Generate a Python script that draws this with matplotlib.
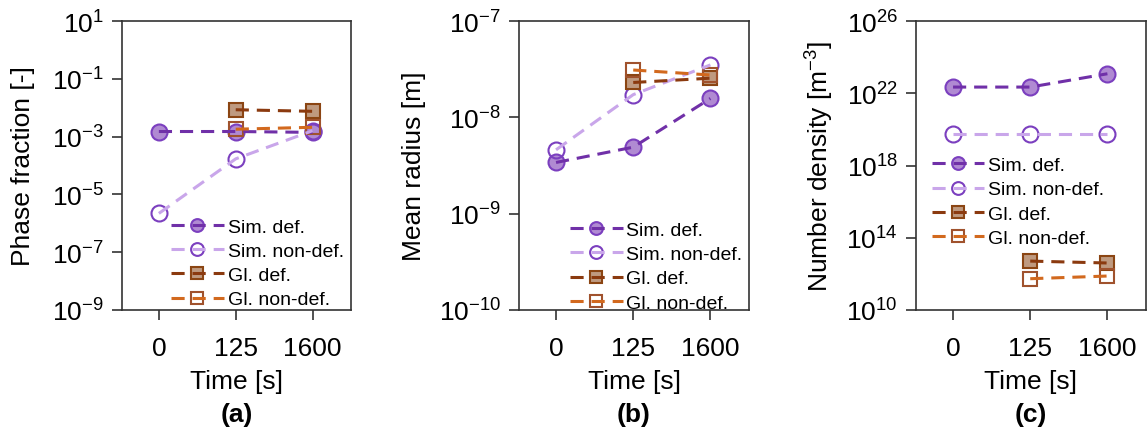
import math
import matplotlib
matplotlib.use("Agg")
import matplotlib.pyplot as plt
from matplotlib.ticker import FixedLocator, FuncFormatter, NullLocator

plt.rcParams['font.family'] = ['Liberation Sans', 'DejaVu Sans']
plt.rcParams['mathtext.fontset'] = 'custom'
plt.rcParams['mathtext.rm'] = 'Liberation Sans'
plt.rcParams['mathtext.it'] = 'Liberation Sans:italic'
plt.rcParams['mathtext.bf'] = 'Liberation Sans:bold'
plt.rcParams['mathtext.default'] = 'regular'

# ---- data ----
time_labels = ["0", "125", "1600"]
x_sim = [0, 1, 2]
x_gl = [1, 2]

# (a) phase fraction [-]
pf_sim_def = [1.5e-3, 1.5e-3, 1.4e-3]
pf_sim_nondef = [2.2e-6, 1.7e-4, 1.6e-3]
pf_gl_def = [8.5e-3, 7.5e-3]
pf_gl_nondef = [1.8e-3, 2.1e-3]

# (b) mean radius [m]
mr_sim_def = [3.4e-9, 4.9e-9, 1.57e-8]
mr_sim_nondef = [4.6e-9, 1.72e-8, 3.5e-8]
mr_gl_def = [2.3e-8, 2.55e-8]
mr_gl_nondef = [3.1e-8, 2.75e-8]

# (c) number density [m^-3]
nd_sim_def = [2.2e22, 2.2e22, 1.2e23]
nd_sim_nondef = [5.6e19, 5.6e19, 5.6e19]
nd_gl_def = [5.1e12, 4.0e12]
nd_gl_nondef = [5.4e11, 7.6e11]

labels = ["Sim. def.", "Sim. non-def.", "Gl. def.", "Gl. non-def."]

# ---- styles ----
c_sd_line = '#7030a8'
c_sd_edge = '#7b3fbf'
c_sd_face = '#b08ad2'
c_sn_line = '#c9a6ea'
c_sn_edge = '#7b3fbf'
c_gd_line = '#8b3a0f'
c_gd_edge = '#8b4513'
c_gd_face = '#bf9a80'
c_gn_line = '#d2691e'
c_gn_edge = '#a0522d'

FS = 19
LFS = 14
lw = 2.2
dash = (4.3, 2.6)
ms_c = 11.5
ms_s = 10.5

W = 1148
H = 435
fig = plt.figure(figsize=(W / 100, H / 100), dpi=100)

axes_px = [(122, 351), (519, 749), (916, 1146)]
top_px, bot_px = 22, 311
ylabel_px = [23, 414, 820]

panels = [
    (pf_sim_def, pf_sim_nondef, pf_gl_def, pf_gl_nondef, "Phase fraction [-]",
     (1e-9, 1e1), [-9, -7, -5, -3, -1, 1], "(a)"),
    (mr_sim_def, mr_sim_nondef, mr_gl_def, mr_gl_nondef, "Mean radius [m]",
     (1e-10, 1e-7), [-10, -9, -8, -7], "(b)"),
    (nd_sim_def, nd_sim_nondef, nd_gl_def, nd_gl_nondef, "Number density [m$^{-3}$]",
     (1e10, 1e26), [10, 14, 18, 22, 26], "(c)"),
]

legend_anchor = [(0.215, 0.318), (0.222, 0.307), (0.068, 0.531)]

styles = [
    dict(color=c_sd_line, marker='o', ms=ms_c, mfc=c_sd_face, mec=c_sd_edge),
    dict(color=c_sn_line, marker='o', ms=ms_c, mfc='none', mec=c_sn_edge),
    dict(color=c_gd_line, marker='s', ms=ms_s, mfc=c_gd_face, mec=c_gd_edge),
    dict(color=c_gn_line, marker='s', ms=ms_s, mfc='none', mec=c_gn_edge),
]

for i, (sd, sn, gd, gn, ylab, ylim, exps, tag) in enumerate(panels):
    l, r = axes_px[i]
    ax = fig.add_axes([l / W, (H - bot_px) / H, (r - l) / W, (bot_px - top_px) / H])
    ax.set_yscale('log')

    series = [(x_sim, sd), (x_sim, sn), (x_gl, gd), (x_gl, gn)]
    handles = []
    for (xs, ys), st in zip(series, styles):
        mk, = ax.plot(xs, ys, ls='none', marker=st['marker'], ms=st['ms'],
                      mfc=st['mfc'], mec=st['mec'], mew=1.5, zorder=2)
        ln, = ax.plot(xs, ys, ls='--', dashes=dash, color=st['color'], lw=lw,
                      zorder=3)
        handles.append((mk, ln))

    ax.set_xlim(-0.48, 2.5)
    ax.set_ylim(*ylim)
    ax.set_xticks(x_sim)
    ax.set_xticklabels(time_labels, fontsize=FS)
    ax.yaxis.set_major_locator(FixedLocator([10.0 ** e for e in exps]))
    ax.yaxis.set_minor_locator(NullLocator())
    ax.yaxis.set_major_formatter(FuncFormatter(
        lambda v, p: r'$10^{%d}$' % round(math.log10(v))))
    ax.tick_params(axis='both', direction='out', length=7, width=1.2,
                   color='#333333', labelsize=FS, pad=6)
    ax.tick_params(axis='x', pad=12)
    for s in ax.spines.values():
        s.set_color('#333333')
        s.set_linewidth(1.2)

    ax.set_ylabel(ylab, fontsize=FS)
    ax.yaxis.label.set_va('center')
    ax.yaxis.set_label_coords((ylabel_px[i] - l) / (r - l), 0.5)
    ax.set_xlabel("Time [s]", fontsize=FS, labelpad=6)
    ax.text(0.5, -(415 - bot_px) / (bot_px - top_px), tag, transform=ax.transAxes,
            ha='center', va='center', fontsize=FS, fontweight='bold')

    ax.legend(handles, labels, fontsize=LFS, frameon=False, handlelength=2.7,
              handletextpad=0.2, labelspacing=0.34, borderpad=0.0,
              borderaxespad=0.0, markerscale=0.8, loc='upper left',
              bbox_to_anchor=legend_anchor[i])

fig.savefig("out.png", dpi=100)
